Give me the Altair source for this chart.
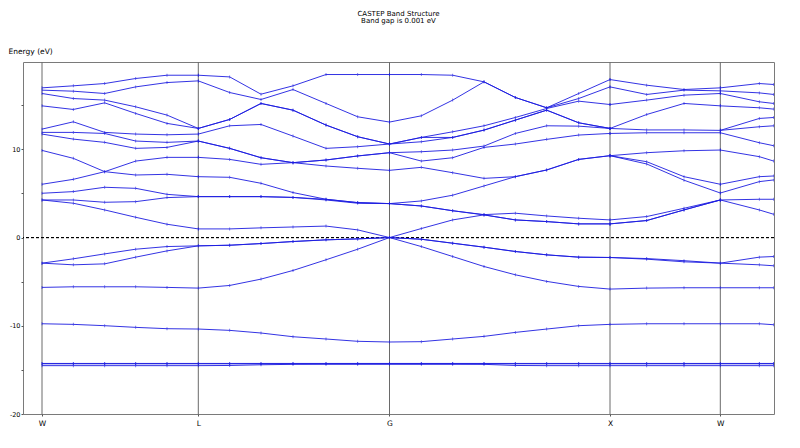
import altair as alt
import pandas as pd

# ---- k-path -------------------------------------------------------------
k_dist = [0.000, 0.313, 0.627, 0.937, 1.250, 1.563, 1.877, 2.190, 2.510, 2.840,
          3.157, 3.475, 3.793, 4.107, 4.420, 4.733, 5.047, 5.367, 5.680, 6.047,
          6.420, 6.783, 7.173, 7.317]
sym_labels = ["W", "L", "G", "X", "W"]
sym_pos = [0.000, 1.563, 3.475, 5.680, 6.783]

# ---- conduction bands: sorted energies (eV) at each k-point, per path segment
seg_start = [0, 5, 11, 18, 21]
seg_W_L = [
    [4.26, 4.26, 5.02, 6.04, 9.88, 11.73, 11.92, 12.29, 14.93, 16.33, 16.71, 16.97],
    [3.89, 4.26, 5.21, 6.60, 8.98, 11.16, 11.92, 13.12, 14.52, 15.76, 16.59, 17.20],
    [3.13, 4.00, 5.70, 7.47, 7.47, 10.79, 11.80, 11.92, 15.27, 15.58, 16.33, 17.46],
    [2.30, 4.07, 5.58, 7.09, 8.67, 10.11, 10.94, 11.73, 14.07, 14.82, 17.08, 18.03],
    [1.51, 4.53, 4.90, 7.17, 9.09, 10.22, 10.79, 11.65, 12.94, 13.88, 17.57, 18.40],
    [0.98, 4.64, 4.64, 6.90, 9.09, 10.94, 10.94, 11.73, 12.37, 12.37, 17.76, 18.40],
]
seg_L_G = [
    [0.98, 4.64, 4.64, 6.90, 9.09, 10.94, 10.94, 11.73, 12.37, 12.37, 17.76, 18.40],
    [0.98, 4.64, 4.64, 6.83, 8.86, 10.11, 10.11, 12.67, 13.39, 13.39, 16.44, 18.21],
    [1.10, 4.64, 4.64, 6.15, 8.30, 9.05, 9.05, 12.82, 15.20, 15.20, 15.65, 16.25],
    [1.20, 4.55, 4.55, 5.10, 8.49, 8.49, 8.49, 11.50, 14.44, 14.44, 16.78, 17.20],
    [1.30, 4.26, 4.34, 4.34, 8.11, 8.79, 8.79, 10.11, 12.75, 12.75, 15.20, 18.48],
    [0.87, 3.89, 3.96, 3.96, 7.85, 9.25, 9.25, 10.30, 11.43, 11.43, 13.69, 18.48],
    [0.00, 3.85, 3.85, 3.85, 7.62, 9.62, 9.62, 10.60, 10.60, 10.60, 13.09, 18.48],
]
seg_G_X = [
    [0.00, 3.85, 3.85, 3.85, 7.62, 9.62, 9.62, 10.60, 10.60, 10.60, 13.09, 18.48],
    [1.02, 3.58, 3.58, 4.15, 7.96, 8.67, 9.73, 10.86, 11.35, 11.35, 13.80, 18.48],
    [2.00, 3.04, 3.04, 4.80, 7.35, 9.05, 9.92, 11.35, 11.35, 11.99, 15.58, 18.40],
    [2.57, 2.57, 2.60, 5.85, 6.71, 10.22, 10.37, 12.18, 12.18, 12.67, 17.65, 17.65],
    [2.00, 2.00, 2.76, 6.90, 6.90, 10.60, 11.80, 13.31, 13.31, 13.61, 15.88, 15.88],
    [1.81, 1.81, 2.45, 7.66, 7.66, 11.13, 12.67, 14.44, 14.44, 14.63, 14.71, 14.71],
    [1.55, 1.55, 2.19, 8.86, 8.86, 11.62, 12.63, 13.01, 13.01, 15.46, 15.76, 16.33],
    [1.55, 1.55, 2.00, 9.28, 9.28, 11.80, 12.37, 12.37, 12.37, 15.08, 17.08, 17.91],
]
seg_X_W = [
    [1.55, 1.55, 2.00, 9.28, 9.28, 9.28, 11.80, 12.37, 12.37, 15.08, 17.08, 17.91],
    [1.93, 1.93, 2.38, 8.34, 8.60, 9.62, 11.88, 12.20, 13.95, 15.58, 16.22, 17.27],
    [3.13, 3.13, 3.32, 6.50, 6.90, 9.84, 11.88, 12.20, 15.20, 16.14, 16.71, 16.78],
    [4.26, 4.26, 4.26, 5.05, 6.04, 9.92, 11.88, 12.15, 14.93, 16.33, 16.63, 16.97],
]
seg_W_K = [
    [4.26, 4.26, 5.05, 6.04, 9.92, 11.88, 12.15, 12.15, 14.93, 16.33, 16.63, 16.97],
    [3.13, 4.34, 6.34, 6.90, 9.17, 10.75, 12.56, 13.50, 14.71, 15.39, 16.40, 17.46],
    [2.64, 4.34, 6.53, 6.98, 8.67, 10.41, 12.67, 13.61, 14.56, 15.20, 16.22, 17.35],
]

# ---- valence bands along the whole path (one value per k-point)
val_p1 = [-2.90, -2.41, -1.85, -1.32, -1.02, -0.94, -0.87, -0.68, -0.45, -0.26, -0.15, 0.00,
          -0.19, -0.64, -1.09, -1.58, -1.96, -2.22, -2.26, -2.38, -2.62, -2.90, -2.22, -2.15]
val_p2 = [-2.90, -3.09, -2.98, -2.22, -1.51, -0.94, -0.87, -0.68, -0.45, -0.26, -0.15, 0.00,
          -0.19, -0.64, -1.09, -1.58, -1.96, -2.22, -2.26, -2.45, -2.75, -2.90, -3.09, -3.20]
val_p3 = [-5.65, -5.58, -5.58, -5.58, -5.65, -5.73, -5.43, -4.71, -3.73, -2.52, -1.32, 0.00,
          -1.02, -2.15, -3.28, -4.22, -4.97, -5.54, -5.84, -5.73, -5.69, -5.69, -5.69, -5.69]
val_s = [-9.77, -9.84, -9.99, -10.18, -10.33, -10.37, -10.52, -10.82, -11.24, -11.50, -11.76, -11.84,
         -11.80, -11.50, -11.20, -10.75, -10.37, -9.99, -9.84, -9.77, -9.77, -9.77, -9.77, -9.88]
val_d1 = [-14.27] * 24
val_d2 = [-14.31] * 24
val_d3 = [-14.52, -14.52, -14.52, -14.52, -14.52, -14.52, -14.50, -14.42, -14.37, -14.36, -14.36, -14.36,
          -14.36, -14.36, -14.37, -14.50, -14.52, -14.52, -14.52, -14.52, -14.52, -14.52, -14.52, -14.52]

y_ticks = [-20, -15, -10, -5, 0, 5, 10, 15]

# ---- long table --------------------------------------------------------
rows = []
for s, seg in enumerate([seg_W_L, seg_L_G, seg_G_X, seg_X_W, seg_W_K]):
    for r in range(len(seg[0])):
        for j, energies in enumerate(seg):
            rows.append({"k": k_dist[seg_start[s] + j], "E": energies[r], "band": f"c{s}_{r}"})
for name, arr in [("p1", val_p1), ("p2", val_p2), ("p3", val_p3), ("s", val_s),
                  ("d1", val_d1), ("d2", val_d2), ("d3", val_d3)]:
    for i, e in enumerate(arr):
        rows.append({"k": k_dist[i], "E": e, "band": name})
df = pd.DataFrame(rows)
sym_df = pd.DataFrame({"k": sym_pos, "label": sym_labels})

# x-axis label expression built from the symmetry arrays
expr = "''"
for p, lab in reversed(list(zip(sym_pos, sym_labels))):
    expr = f"abs(datum.value - {p}) < 0.01 ? '{lab}' : ({expr})"

FONT = "DejaVu Sans"
BLUE = "#1c1ce0"

x_enc = alt.X("k:Q",
              scale=alt.Scale(domain=[-0.19, 7.32], nice=False, zero=False),
              axis=alt.Axis(values=sym_pos, labelExpr=expr, title=None, grid=False,
                            domain=False, tickSize=2, tickColor="#555555",
                            labelPadding=3, labelFontSize=7.5, labelFont=FONT,
                            labelColor="black"))
y_enc = alt.Y("E:Q",
              scale=alt.Scale(domain=[-20, 19.9], nice=False, zero=False),
              axis=alt.Axis(values=y_ticks,
                            labelExpr="datum.value % 10 == 0 ? toString(datum.value) : ''",
                            title="Energy (eV)", titleAngle=0, titleAlign="left",
                            titleBaseline="middle", titleX=-15, titleY=-11,
                            titleFontSize=7.5, titleFontWeight="normal", titleFont=FONT,
                            titleColor="black",
                            grid=False, domain=False, tickSize=2, tickColor="#555555",
                            labelPadding=1, labelFontSize=6.5, labelFont=FONT,
                            labelColor="black"))

sym_rules = alt.Chart(sym_df).mark_rule(color="#6a6a6a", strokeWidth=1).encode(x="k:Q")
zero_line = alt.Chart(sym_df).mark_rule(color="black", strokeWidth=0.8,
                                        strokeDash=[3, 2]).encode(y=alt.datum(0))
lines = alt.Chart(df).mark_line(color=BLUE, strokeWidth=0.9, clip=True).encode(
    x=x_enc, y=y_enc, detail="band:N")
marks = alt.Chart(df).mark_tick(color=BLUE, orient="vertical", size=3, thickness=0.8,
                                clip=True).encode(x="k:Q", y="E:Q")

chart = alt.layer(sym_rules, zero_line, lines, marks).properties(
    width=751, height=352,
    title=alt.TitleParams(["CASTEP Band Structure", "Band gap is 0.001 eV"],
                          fontSize=7, fontWeight="normal", font=FONT, color="black",
                          anchor="middle", offset=23, lineHeight=7.5),
    autosize=alt.AutoSizeParams(type="none"),
    padding={"left": 15, "top": 54, "right": 10, "bottom": 22},
).configure_view(stroke="#7a7a7a", strokeWidth=1)

chart.save("out.html", embed_options={"renderer": "svg", "actions": False})
